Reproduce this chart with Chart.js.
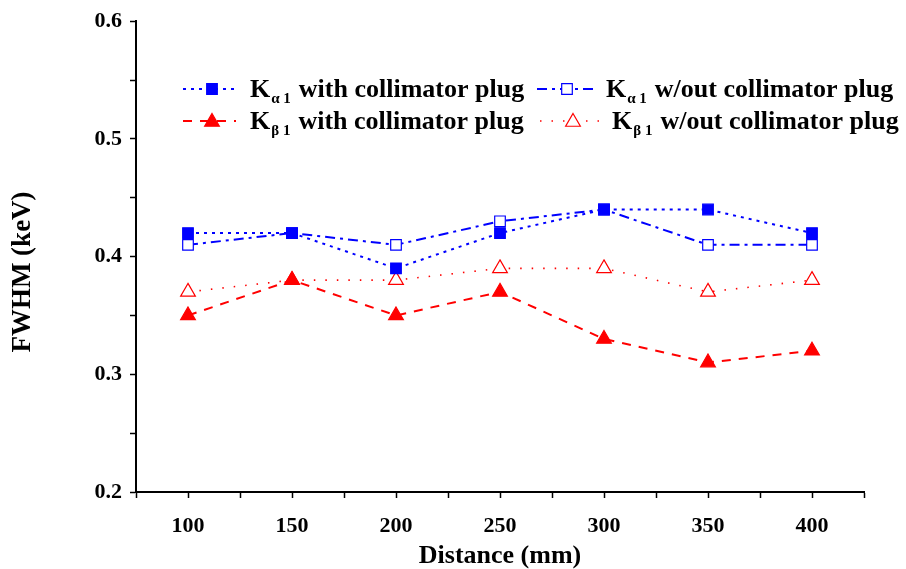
<!DOCTYPE html>
<html>
<head>
<meta charset="utf-8">
<script src="https://cdn.jsdelivr.net/npm/chart.js@4.4.1/dist/chart.umd.min.js"></script>
<style>
  html, body { margin: 0; padding: 0; background: #fff; }
  #wrap { width: 906px; height: 569px; }
</style>
</head>
<body>
<div id="wrap"><canvas id="fwhmChart" width="906" height="569"></canvas></div>
<script>
// Data
const distances = [100, 150, 200, 250, 300, 350, 400];
const kaWith    = [0.42, 0.42, 0.39, 0.42, 0.44, 0.44, 0.42];
const kaWithout = [0.41, 0.42, 0.41, 0.43, 0.44, 0.41, 0.41];
const kbWith    = [0.35, 0.38, 0.35, 0.37, 0.33, 0.31, 0.32];
const kbWithout = [0.37, 0.38, 0.38, 0.39, 0.39, 0.37, 0.38];

const legendSubs = ['\u03b1 1', '\u03b1 1', '\u03b2 1', '\u03b2 1'];
const legendRest = ['with collimator plug', 'w/out collimator plug', 'with collimator plug', 'w/out collimator plug'];
const yTitle = 'FWHM (keV)';

const FONT = '"Liberation Serif", "Times New Roman", serif';

function pts(values) {
    return distances.map((d, i) => ({ x: d, y: values[i] }));
}

// Draws the two-column legend with subscripts, and the y-axis title
const legendPlugin = {
    id: 'subLegend',
    afterDraw(chart) {
        const ctx = chart.ctx;
        const slots = [
            { x0: 183, x1: 236, mx: 212, tx: 250, y: 89 },
            { x0: 537, x1: 596, mx: 567, tx: 606, y: 89 },
            { x0: 183, x1: 236, mx: 212, tx: 250, y: 121 },
            { x0: 540, x1: 604, mx: 573, tx: 612, y: 121 }
        ];
        chart.data.datasets.forEach((ds, i) => {
            const s = slots[i];
            ctx.save();
            ctx.strokeStyle = ds.borderColor;
            ctx.lineWidth = ds.borderWidth;
            ctx.setLineDash(ds.borderDash || []);
            ctx.beginPath();
            ctx.moveTo(s.x0, s.y);
            ctx.lineTo(s.x1, s.y);
            ctx.stroke();
            ctx.setLineDash([]);
            ctx.fillStyle = ds.pointBackgroundColor;
            ctx.strokeStyle = ds.borderColor;
            ctx.lineWidth = ds.pointBorderWidth;
            Chart.helpers.drawPoint(ctx, {
                pointStyle: ds.pointStyle,
                radius: ds.pointRadius,
                borderWidth: ds.pointBorderWidth,
                rotation: 0
            }, s.mx, s.y + (ds.pointStyle === 'triangle' ? 1 : 0));

            // text: K + subscript + rest
            let tx = s.tx;
            ctx.fillStyle = '#000';
            ctx.textBaseline = 'alphabetic';
            ctx.textAlign = 'left';
            ctx.font = 'bold 26px ' + FONT;
            ctx.fillText('K', tx, s.y + 8);
            tx += ctx.measureText('K').width + 1;
            ctx.font = 'bold 15px ' + FONT;
            ctx.fillText(legendSubs[i], tx, s.y + 14);
            tx += ctx.measureText(legendSubs[i]).width + 8;
            ctx.font = 'bold 26px ' + FONT;
            ctx.fillText(legendRest[i], tx, s.y + 8);
            ctx.restore();
        });

        // y-axis title
        ctx.save();
        ctx.translate(23, 272);
        ctx.rotate(-Math.PI / 2);
        ctx.fillStyle = '#000';
        ctx.font = 'bold 27px ' + FONT;
        ctx.textAlign = 'center';
        ctx.textBaseline = 'middle';
        ctx.fillText(yTitle, 0, 0);
        ctx.restore();
    }
};

document.addEventListener('DOMContentLoaded', function() {
    const ctx = document.getElementById('fwhmChart').getContext('2d');
    new Chart(ctx, {
        type: 'line',
        data: {
            datasets: [
                {
                    label: 'K\u03b11 with collimator plug',
                    data: pts(kaWith),
                    borderColor: '#0000ff',
                    backgroundColor: '#0000ff',
                    pointBackgroundColor: '#0000ff',
                    borderWidth: 2,
                    borderDash: [3, 5],
                    pointStyle: 'rect',
                    pointRadius: 7.5,
                    pointBorderWidth: 1.2
                },
                {
                    label: 'K\u03b11 w/out collimator plug',
                    data: pts(kaWithout),
                    borderColor: '#0000ff',
                    backgroundColor: '#ffffff',
                    pointBackgroundColor: '#ffffff',
                    borderWidth: 2,
                    borderDash: [10, 5, 3, 5],
                    pointStyle: 'rect',
                    pointRadius: 7.5,
                    pointBorderWidth: 1.2
                },
                {
                    label: 'K\u03b21 with collimator plug',
                    data: pts(kbWith),
                    borderColor: '#ff0000',
                    backgroundColor: '#ff0000',
                    pointBackgroundColor: '#ff0000',
                    borderWidth: 2,
                    borderDash: [9, 8],
                    pointStyle: 'triangle',
                    pointRadius: 8.5,
                    pointBorderWidth: 1.2
                },
                {
                    label: 'K\u03b21 w/out collimator plug',
                    data: pts(kbWithout),
                    borderColor: '#ff0000',
                    backgroundColor: '#ffffff',
                    pointBackgroundColor: '#ffffff',
                    borderWidth: 1.6,
                    borderDash: [1.5, 10],
                    pointStyle: 'triangle',
                    pointRadius: 8.5,
                    pointBorderWidth: 1.2
                }
            ]
        },
        options: {
            responsive: false,
            animation: false,
            layout: { padding: { top: 20, right: 42, left: 0, bottom: 0 } },
            plugins: {
                legend: { display: false },
                tooltip: { enabled: false }
            },
            scales: {
                x: {
                    type: 'linear',
                    min: 75,
                    max: 425,
                    border: { display: true, color: '#000', width: 2 },
                    grid: { drawOnChartArea: false, drawTicks: true, tickLength: 6, tickColor: '#000', tickWidth: 1.5 },
                    ticks: {
                        stepSize: 25,
                        autoSkip: false,
                        maxRotation: 0,
                        padding: 15,
                        color: '#000',
                        font: { family: FONT, size: 22, weight: 'bold' },
                        callback: v => (v % 50 === 0 && v >= 100 && v <= 400) ? String(v) : ''
                    },
                    title: {
                        display: true,
                        text: 'Distance (mm)',
                        color: '#000',
                        font: { family: FONT, size: 26, weight: 'bold', lineHeight: 1 },
                        padding: { top: 10, bottom: 0 }
                    },
                    afterFit: s => { s.height = 77; }
                },
                y: {
                    min: 0.2,
                    max: 0.6,
                    border: { display: true, color: '#000', width: 2 },
                    grid: { drawOnChartArea: false, drawTicks: true, tickLength: 6, tickColor: '#000', tickWidth: 1.5 },
                    ticks: {
                        stepSize: 0.05,
                        autoSkip: false,
                        padding: 8,
                        color: '#000',
                        font: { family: FONT, size: 22, weight: 'bold' },
                        callback: v => (Math.round(v * 100) % 10 === 0) ? v.toFixed(1) : ''
                    },
                    title: { display: false },
                    afterFit: s => { s.width = 136; }
                }
            }
        },
        plugins: [legendPlugin]
    });
});
</script>
</body>
</html>
